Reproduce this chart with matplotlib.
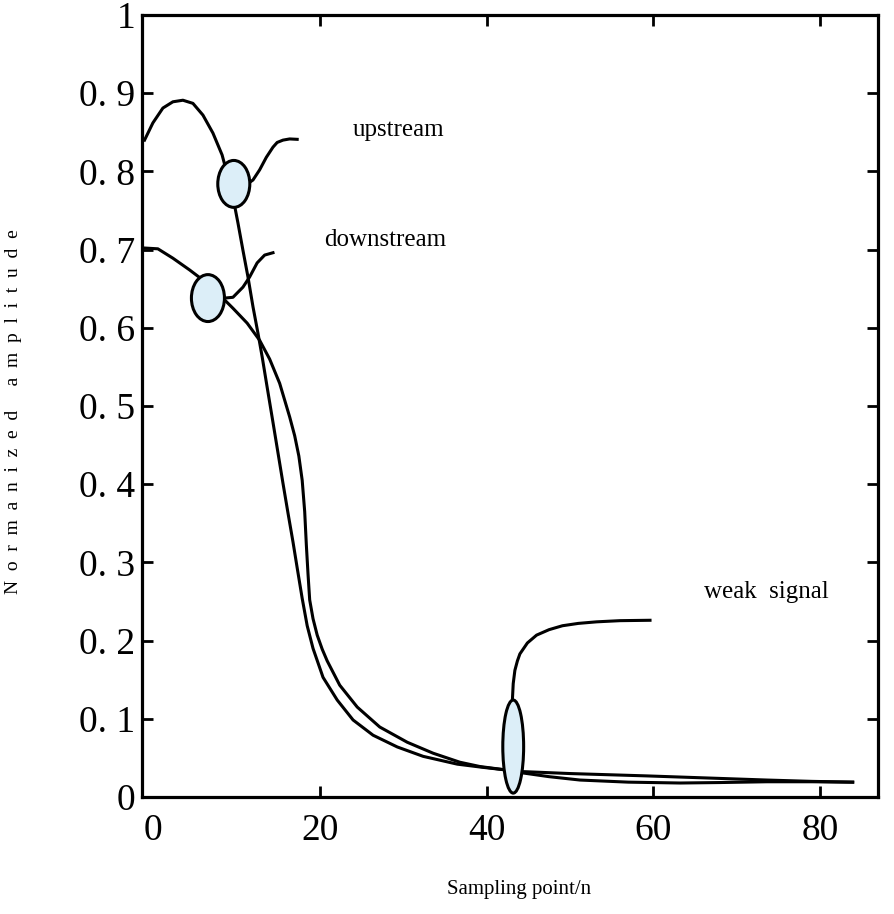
import numpy as np
import matplotlib.pyplot as plt
from matplotlib.patches import Ellipse

# curves (sampling point, normalized amplitude)
up_x = [-1.0, 0.0, 1.2, 2.4, 3.6, 4.8, 6.0, 7.2, 8.3, 9.0, 9.6, 10.2, 10.8, 11.4, 12.0, 12.6,
        13.1, 13.7, 14.4, 15.0, 15.6, 16.2, 16.8, 17.3, 17.9, 18.5, 19.2, 20.4, 22.1, 24.0, 26.4,
        29.3, 32.4, 36.5, 39.5, 42.4, 44.4, 47.5, 51.2, 57.0, 63.2, 68.0, 73.6, 79.0, 83.9]
up_y = [0.840, 0.862, 0.881, 0.889, 0.891, 0.887, 0.872, 0.849, 0.821, 0.793, 0.767, 0.734,
        0.699, 0.665, 0.627, 0.593, 0.563, 0.524, 0.479, 0.440, 0.401, 0.363, 0.326, 0.293,
        0.254, 0.219, 0.190, 0.153, 0.124, 0.0985, 0.079, 0.064, 0.052, 0.042, 0.038, 0.0345,
        0.0307, 0.026, 0.0217, 0.019, 0.0179, 0.0185, 0.0195, 0.0195, 0.019]

down_x = [-1.0, 0.6, 2.4, 4.4, 6.5, 8.0, 9.6, 11.3, 12.8, 14.0, 15.2, 16.4, 17.0, 17.5, 17.9,
          18.2, 18.4, 18.6, 18.8, 19.2, 19.7, 20.3, 20.9, 22.4, 24.5, 27.2, 30.5, 33.6, 36.8,
          39.2, 42.4, 43.2, 50.0, 59.2, 66.0, 73.6, 79.0, 83.9]
down_y = [0.702, 0.701, 0.689, 0.674, 0.657, 0.642, 0.625, 0.606, 0.584, 0.560, 0.529, 0.486,
          0.462, 0.436, 0.405, 0.365, 0.322, 0.285, 0.252, 0.228, 0.207, 0.189, 0.174, 0.143,
          0.115, 0.0895, 0.070, 0.056, 0.0445, 0.039, 0.0345, 0.033, 0.030, 0.027, 0.0245,
          0.0217, 0.020, 0.019]

# marked regions: centre x, centre y, width, height
marks_x = [9.7, 6.6, 43.2]
marks_y = [0.784, 0.638, 0.0645]
marks_w = [3.84, 3.96, 2.5]
marks_h = [0.060, 0.060, 0.119]

# leader lines
lead_up_x = [11.6, 12.0, 12.8, 13.6, 14.4, 14.9, 15.6, 16.4, 17.3]
lead_up_y = [0.786, 0.789, 0.802, 0.818, 0.831, 0.837, 0.840, 0.8415, 0.841]
lead_down_x = [8.6, 9.6, 10.8, 11.6, 12.5, 13.4, 14.4]
lead_down_y = [0.638, 0.639, 0.652, 0.665, 0.683, 0.693, 0.696]
lead_weak_x = [43.1, 43.2, 43.4, 43.7, 44.0, 44.9, 46.0, 47.5, 49.1, 51.0, 53.2, 56.0, 59.6]
lead_weak_y = [0.124, 0.145, 0.162, 0.174, 0.183, 0.197, 0.207, 0.214, 0.219, 0.222, 0.224, 0.2255, 0.226]

labels = ["upstream", "downstream", "weak  signal"]
labels_x = [29.4, 27.8, 73.6]
labels_y = [0.853, 0.712, 0.262]

xticks = [0, 20, 40, 60, 80]
yticks = [0, 0.1, 0.2, 0.3, 0.4, 0.5, 0.6, 0.7, 0.8, 0.9, 1]
ytick_labels = ["0", "0. 1", "0. 2", "0. 3", "0. 4", "0. 5", "0. 6", "0. 7", "0. 8", "0. 9", "1"]

plt.rcParams['font.family'] = ['Liberation Serif', 'DejaVu Serif']

fig = plt.figure(figsize=(8.95, 9.14), dpi=100)
ax = fig.add_axes([0.1587, 0.128, 0.822, 0.8556])

lw = 2.2
ax.plot(up_x, up_y, color='black', lw=lw, solid_joinstyle='round')
ax.plot(down_x, down_y, color='black', lw=lw, solid_joinstyle='round')

for cx, cy, w, h in zip(marks_x, marks_y, marks_w, marks_h):
    ax.add_patch(Ellipse((cx, cy), w, h, facecolor='#dceef8', edgecolor='black', lw=lw, zorder=3))

ax.plot(lead_up_x, lead_up_y, color='black', lw=lw, solid_joinstyle='round')
ax.plot(lead_down_x, lead_down_y, color='black', lw=lw, solid_joinstyle='round')
ax.plot(lead_weak_x, lead_weak_y, color='black', lw=lw, solid_joinstyle='round')

for t, tx, ty in zip(labels, labels_x, labels_y):
    ax.text(tx, ty, t, fontsize=18, ha='center', va='center')

ax.set_xlim(-1.3, 86.9)
ax.set_ylim(0, 1)
ax.set_xticks(xticks)
ax.set_xticklabels([str(v) for v in xticks])
ax.set_yticks(yticks)
ax.set_yticklabels(ytick_labels)
ax.tick_params(axis='both', direction='in', length=8, width=2, labelsize=27,
               top=True, right=True)
ax.tick_params(axis='x', pad=12)
ax.tick_params(axis='y', pad=5)
ax.xaxis.get_major_ticks()[0].tick1line.set_visible(False)
ax.xaxis.get_major_ticks()[0].tick2line.set_visible(False)
for s in ax.spines.values():
    s.set_linewidth(2.3)

fig.text(0.58, 0.016, "Sampling point/n", fontsize=15, ha='center', va='bottom')
fig.text(0.015, 0.55, "  ".join("Normanized") + "     " + "  ".join("amplitude"),
         fontsize=14, rotation=90, ha='center', va='center')

fig.savefig("out.png", dpi=100)
